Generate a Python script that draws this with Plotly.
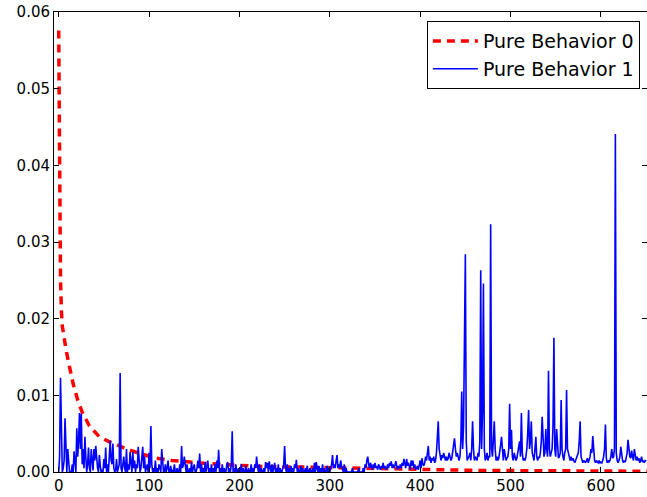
import plotly.graph_objects as go

# Pure Behavior 0 (red dashed)
red_x = [0, 1, 2, 3, 4, 6, 8, 12, 16, 21, 26, 34, 45, 55, 64, 75, 90, 108, 125, 141,
         165, 193, 230, 267, 300, 340, 380, 420, 470, 520, 570, 620, 651]
red_y = [0.0576, 0.032, 0.025, 0.021, 0.019, 0.0176, 0.016, 0.0137, 0.0115, 0.0094,
         0.0078, 0.0060, 0.0046, 0.0040, 0.0035, 0.0030, 0.0024, 0.0018, 0.0015, 0.0013,
         0.0011, 0.0009, 0.0007, 0.00065, 0.00055, 0.00045, 0.0004, 0.0003, 0.0002,
         0.00015, 0.0001, 0.0001, 0.0001]

# Pure Behavior 1 (blue) - values at x = 0..650, in units of 1e-4
blue_e4 = [
    0, 20, 123, 30, 0, 5, 15, 70, 10, 0,
    30, 5, 0, 0, 0, 10, 0, 27, 5, 0,
    57, 20, 40, 77, 30, 76, 10, 30, 5, 46,
    20, 0, 10, 32, 5, 0, 30, 10, 2, 30,
    15, 34, 10, 5, 0, 22, 8, 0, 3, 0,
    17, 5, 32, 0, 10, 0, 20, 41, 15, 10,
    37, 5, 0, 2, 17, 0, 5, 10, 129, 5,
    0, 10, 20, 5, 0, 30, 0, 10, 3, 26,
    10, 0, 26, 5, 15, 0, 10, 5, 33, 10,
    0, 5, 15, 33, 5, 20, 0, 5, 10, 0,
    25, 5, 60, 10, 0, 5, 0, 15, 0, 5,
    0, 10, 5, 0, 30, 5, 0, 0, 10, 0,
    5, 15, 0, 0, 8, 0, 3, 0, 10, 0,
    0, 5, 0, 0, 10, 0, 34, 5, 10, 20,
    5, 0, 10, 0, 0, 5, 0, 13, 0, 5,
    10, 0, 0, 5, 15, 5, 24, 0, 10, 0,
    5, 0, 13, 0, 10, 15, 0, 5, 0, 10,
    0, 5, 0, 10, 0, 15, 5, 29, 0, 5,
    0, 10, 0, 5, 0, 0, 10, 13, 0, 5,
    0, 10, 53, 0, 5, 0, 10, 0, 0, 5,
    0, 0, 10, 0, 5, 0, 0, 8, 0, 0,
    5, 0, 0, 10, 0, 5, 0, 10, 5, 20,
    8, 0, 10, 0, 5, 0, 0, 5, 0, 13,
    5, 12, 0, 14, 5, 0, 10, 0, 5, 12,
    0, 5, 0, 10, 0, 5, 0, 0, 5, 10,
    34, 5, 0, 10, 0, 5, 0, 8, 0, 5,
    0, 10, 5, 16, 0, 5, 0, 0, 8, 0,
    5, 0, 0, 5, 0, 8, 0, 0, 5, 0,
    0, 5, 0, 12, 0, 13, 5, 0, 8, 0,
    5, 0, 10, 0, 5, 0, 0, 8, 0, 5,
    0, 5, 10, 22, 5, 10, 5, 15, 22, 5,
    10, 5, 15, 8, 5, 0, 10, 0, 5, 0,
    0, 0, 0, 0, 0, 5, 0, 0, 0, 0,
    0, 0, 5, 0, 0, 0, 0, 5, 0, 10,
    5, 15, 20, 10, 5, 12, 5, 3, 10, 5,
    12, 5, 8, 3, 10, 5, 3, 8, 5, 12,
    5, 8, 3, 5, 10, 5, 12, 8, 14, 5,
    10, 5, 8, 14, 5, 3, 8, 5, 10, 5,
    12, 8, 17, 10, 5, 17, 8, 12, 5, 3,
    15, 8, 15, 5, 10, 3, 5, 8, 3, 10,
    15, 5, 18, 10, 8, 12, 20, 15, 25, 34,
    15, 20, 12, 18, 15, 20, 12, 15, 25, 45,
    66, 30, 20, 15, 22, 18, 25, 18, 15, 20,
    15, 18, 25, 20, 15, 18, 30, 35, 44, 30,
    20, 25, 18, 15, 20, 40, 105, 30, 60, 142,
    284, 40, 15, 18, 20, 25, 15, 30, 66, 30,
    15, 20, 18, 15, 25, 20, 40, 263, 30, 80,
    246, 30, 15, 18, 25, 15, 20, 20, 323, 30,
    20, 40, 66, 30, 15, 20, 15, 18, 25, 35,
    46, 25, 15, 30, 20, 15, 18, 20, 30, 89,
    30, 55, 20, 15, 25, 20, 15, 18, 25, 30,
    40, 20, 77, 25, 15, 18, 15, 20, 30, 50,
    81, 30, 40, 66, 25, 20, 15, 30, 46, 20,
    15, 20, 18, 25, 40, 72, 30, 20, 25, 56,
    30, 20, 132, 30, 20, 25, 30, 60, 175, 30,
    20, 56, 30, 18, 20, 25, 94, 30, 20, 15,
    25, 30, 107, 30, 25, 18, 15, 20, 15, 18,
    15, 12, 15, 18, 20, 25, 40, 66, 20, 15,
    12, 15, 13, 12, 15, 18, 12, 15, 20, 30,
    25, 47, 20, 15, 12, 15, 13, 12, 15, 12,
    13, 12, 15, 20, 30, 62, 18, 12, 15, 13,
    15, 20, 30, 18, 20, 30, 441, 25, 15, 12,
    15, 20, 33, 18, 15, 12, 15, 13, 18, 25,
    42, 25, 20, 18, 28, 20, 15, 30, 18, 15,
    20, 15, 18, 12, 15, 20, 13, 15, 12, 15,
    14,
]
blue_x = list(range(len(blue_e4)))
blue_y = [v * 1e-4 for v in blue_e4]

x_ticks = [0, 100, 200, 300, 400, 500, 600]
y_ticks = [0.00, 0.01, 0.02, 0.03, 0.04, 0.05, 0.06]

fig = go.Figure()
fig.add_trace(go.Scatter(
    x=red_x, y=red_y, mode="lines", name="Pure Behavior 0",
    line=dict(color="#ff0000", width=3.5, dash="8px,6px"),
    legendgroup="a",
))
fig.add_trace(go.Scatter(
    x=blue_x, y=blue_y, mode="lines", name="Pure Behavior 1",
    line=dict(color="#0000ff", width=1.6),
    legendgroup="b",
))

font = dict(family="DejaVu Sans", size=15, color="#000000")
axis_common = dict(
    showline=True, linecolor="#000000", linewidth=1, mirror="ticks",
    ticks="inside", ticklen=5, tickcolor="#000000", tickwidth=1,
    showgrid=False, zeroline=False, tickfont=font, automargin=False,
)
fig.update_layout(
    width=647, height=497,
    margin=dict(l=54, r=0, t=12, b=25),
    paper_bgcolor="white", plot_bgcolor="white",
    font=font,
    showlegend=True,
    legend=dict(
        x=0.988, y=0.980, xanchor="right", yanchor="top",
        bordercolor="#000000", borderwidth=1, bgcolor="white",
        font=dict(family="DejaVu Sans", size=19, color="#000000"),
        tracegroupgap=0, itemwidth=45,
    ),
    xaxis=dict(range=[-5.2, 651], tickvals=x_ticks, **axis_common),
    yaxis=dict(range=[0, 0.06], tickvals=y_ticks, tickformat=".2f", **axis_common),
)

fig.write_html("out.html", config={"displayModeBar": False},
               post_script="document.body.style.margin='0';")
